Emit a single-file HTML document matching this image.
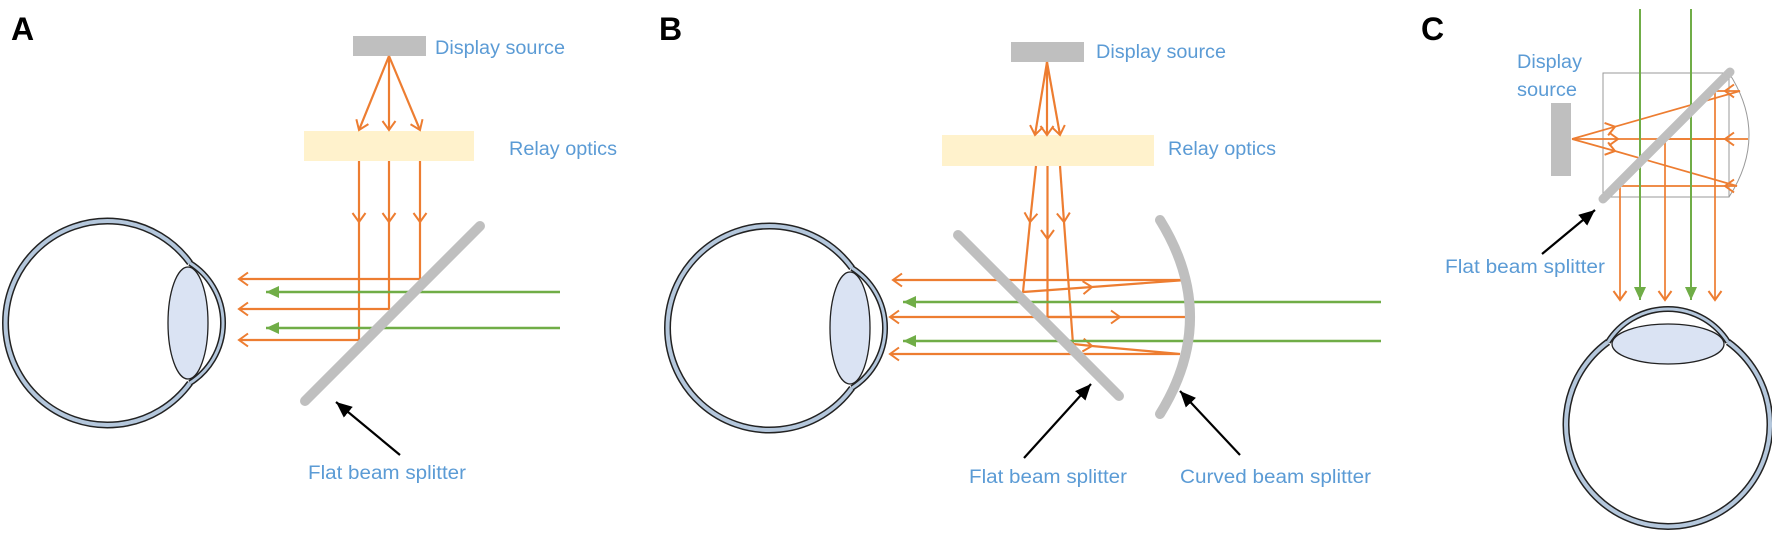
<!DOCTYPE html>
<html><head><meta charset="utf-8"><style>
html,body{margin:0;padding:0;background:#fff}
svg{display:block}
.t{font-family:"Liberation Sans",sans-serif;font-size:19px;fill:#5b9bd5}
.L{font-family:"Liberation Sans",sans-serif;font-size:32px;font-weight:bold;fill:#000}
.o{stroke:#ed7d31;stroke-width:2.2;fill:none}
.g{stroke:#70ad47;stroke-width:2.6;fill:none}
.bs{stroke:#bfbfbf;stroke-width:10;stroke-linecap:round;fill:none}
.k{stroke:#000;stroke-width:2.2;fill:none}
</style></head><body>
<svg width="1772" height="534" viewBox="0 0 1772 534" xmlns="http://www.w3.org/2000/svg">
<defs>
<marker id="mo" markerUnits="userSpaceOnUse" viewBox="0 0 10 14" refX="9.5" refY="7" markerWidth="10" markerHeight="14" orient="auto" overflow="visible">
<path d="M0.5,0.5 L9.5,7 L0.5,13.5" fill="none" stroke="#ed7d31" stroke-width="2"/></marker>
<marker id="mg" markerUnits="userSpaceOnUse" viewBox="0 0 13 12" refX="13" refY="6" markerWidth="13" markerHeight="12" orient="auto">
<path d="M0,0 L13,6 L0,12 z" fill="#70ad47"/></marker>
<marker id="mk" markerUnits="userSpaceOnUse" viewBox="0 0 16 14" refX="16" refY="7" markerWidth="16" markerHeight="14" orient="auto">
<path d="M0,0 L16,7 L0,14 z" fill="#000"/></marker>
<g id="eye">
<path d="M82,-60 A102,102 0 1 0 82,60" fill="none" stroke="#222" stroke-width="7"/>
<path d="M82,-60 A102,102 0 1 0 82,60" fill="none" stroke="#b4c7dc" stroke-width="4"/>
<path d="M82,-60 A71,71 0 0 1 82,60" fill="none" stroke="#222" stroke-width="6"/>
<path d="M82,-60 A71,71 0 0 1 82,60" fill="none" stroke="#b4c7dc" stroke-width="3"/>
<path d="M82,-60 A71,71 0 0 1 82,60" fill="none" stroke="#fff" stroke-width="0" />
<ellipse cx="80" cy="0" rx="20" ry="56" fill="#dae3f3" stroke="#222" stroke-width="1.3"/>
</g>
</defs>

<!-- ===== Panel A ===== -->
<text class="L" x="11" y="40">A</text>
<rect x="353" y="36" width="73" height="20" fill="#bfbfbf"/>
<text class="t" x="435" y="54" textLength="130" lengthAdjust="spacingAndGlyphs">Display source</text>
<rect x="304" y="131" width="170" height="30" fill="#fff2cc"/>
<text class="t" x="509" y="155" textLength="108" lengthAdjust="spacingAndGlyphs">Relay optics</text>
<path class="o" d="M389,56 L359,130" marker-end="url(#mo)"/>
<path class="o" d="M389,56 L389,130" marker-end="url(#mo)"/>
<path class="o" d="M389,56 L420,130" marker-end="url(#mo)"/>
<path class="o" d="M359,161 L359,222" marker-end="url(#mo)"/>
<path class="o" d="M389,161 L389,222" marker-end="url(#mo)"/>
<path class="o" d="M420,161 L420,222" marker-end="url(#mo)"/>
<path class="o" d="M420,222 L420,279 L239,279" marker-end="url(#mo)"/>
<path class="o" d="M389,222 L389,309 L239,309" marker-end="url(#mo)"/>
<path class="o" d="M359,222 L359,340 L239,340" marker-end="url(#mo)"/>
<path class="g" d="M560,292 L266,292" marker-end="url(#mg)"/>
<path class="g" d="M560,328 L266,328" marker-end="url(#mg)"/>
<path class="bs" d="M305,401 L480,226"/>
<use href="#eye" transform="translate(108,323)"/>
<path class="k" d="M400,455 L336,402" marker-end="url(#mk)"/>
<text class="t" x="308" y="479" textLength="158" lengthAdjust="spacingAndGlyphs">Flat beam splitter</text>

<!-- ===== Panel B ===== -->
<text class="L" x="659" y="40">B</text>
<rect x="1011" y="42" width="73" height="20" fill="#bfbfbf"/>
<text class="t" x="1096" y="58" textLength="130" lengthAdjust="spacingAndGlyphs">Display source</text>
<rect x="942" y="135" width="212" height="31" fill="#fff2cc"/>
<text class="t" x="1168" y="155" textLength="108" lengthAdjust="spacingAndGlyphs">Relay optics</text>
<path class="o" d="M1047,62 L1035,135" marker-end="url(#mo)"/>
<path class="o" d="M1047,62 L1047,135" marker-end="url(#mo)"/>
<path class="o" d="M1047,62 L1060,135" marker-end="url(#mo)"/>
<path class="o" d="M1036,166 L1030,222" marker-end="url(#mo)"/>
<path class="o" d="M1030,222 L1023,292 L1092,287" marker-end="url(#mo)"/>
<path class="o" d="M1092,287 L1186,280 L893,280" marker-end="url(#mo)"/>
<path class="o" d="M1047.5,166 L1047.5,239" marker-end="url(#mo)"/>
<path class="o" d="M1047.5,239 L1047.5,317 L1120,317" marker-end="url(#mo)"/>
<path class="o" d="M1120,317 L1189,317 L890,317" marker-end="url(#mo)"/>
<path class="o" d="M1060,166 L1064,222" marker-end="url(#mo)"/>
<path class="o" d="M1064,222 L1073,344 L1092,346" marker-end="url(#mo)"/>
<path class="o" d="M1092,346 L1180,354 L890,354" marker-end="url(#mo)"/>
<path class="g" d="M1381,302 L903,302" marker-end="url(#mg)"/>
<path class="g" d="M1381,341 L903,341" marker-end="url(#mg)"/>
<path class="bs" d="M958,235 L1119,396"/>
<path class="bs" d="M1160,220 Q1220,317 1160,414"/>
<use href="#eye" transform="translate(770,328)"/>
<path class="k" d="M1024,458 L1091,384" marker-end="url(#mk)"/>
<path class="k" d="M1240,455 L1180,391" marker-end="url(#mk)"/>
<text class="t" x="969" y="483" textLength="158" lengthAdjust="spacingAndGlyphs">Flat beam splitter</text>
<text class="t" x="1180" y="483" textLength="191" lengthAdjust="spacingAndGlyphs">Curved beam splitter</text>

<!-- ===== Panel C ===== -->
<text class="L" x="1421" y="40">C</text>
<text class="t" x="1517" y="68" textLength="65" lengthAdjust="spacingAndGlyphs">Display</text>
<text class="t" x="1517" y="96" textLength="60" lengthAdjust="spacingAndGlyphs">source</text>
<rect x="1551" y="103" width="20" height="73" fill="#bfbfbf"/>
<rect x="1603" y="73" width="126" height="124" fill="none" stroke="#999" stroke-width="1"/>
<path d="M1729,73 Q1769,135 1729,197" fill="none" stroke="#999" stroke-width="1"/>
<path class="o" style="stroke-width:1.7" d="M1572,139 L1615,126.7" marker-end="url(#mo)"/>
<path class="o" style="stroke-width:1.7" d="M1615,126.7 L1740,91 L1725,91" marker-end="url(#mo)"/>
<path class="o" style="stroke-width:1.7" d="M1725,91 L1715,91 L1715,300" marker-end="url(#mo)"/>
<path class="o" style="stroke-width:1.7" d="M1572,139 L1618,139" marker-end="url(#mo)"/>
<path class="o" style="stroke-width:1.7" d="M1618,139 L1748,139 L1725,139" marker-end="url(#mo)"/>
<path class="o" style="stroke-width:1.7" d="M1725,139 L1665,139 L1665,300" marker-end="url(#mo)"/>
<path class="o" style="stroke-width:1.7" d="M1572,139 L1615,151" marker-end="url(#mo)"/>
<path class="o" style="stroke-width:1.7" d="M1615,151 L1737,186 L1725,186" marker-end="url(#mo)"/>
<path class="o" style="stroke-width:1.7" d="M1725,186 L1620,186 L1620,300" marker-end="url(#mo)"/>
<path class="g" style="stroke-width:2" d="M1640,9 L1640,300" marker-end="url(#mg)"/>
<path class="g" style="stroke-width:2" d="M1691,9 L1691,300" marker-end="url(#mg)"/>
<path class="bs" style="stroke-width:9" d="M1603,199 L1730,72"/>
<path class="k" d="M1542,254 L1595,210" marker-end="url(#mk)"/>
<text class="t" x="1445" y="273" textLength="160" lengthAdjust="spacingAndGlyphs">Flat beam splitter</text>
<use href="#eye" transform="translate(1668,424) rotate(-90)"/>
</svg>
</body></html>
